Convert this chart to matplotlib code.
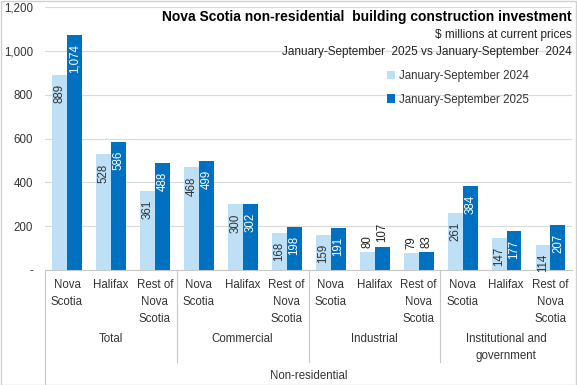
import matplotlib
matplotlib.use("Agg")
import matplotlib.pyplot as plt
import matplotlib.transforms as mtransforms
from matplotlib.lines import Line2D
from matplotlib.patches import Rectangle
import numpy as np

plt.rcParams['font.family'] = ['Liberation Sans Narrow', 'Liberation Sans', 'DejaVu Sans']

# ---- data ----
regions = ["Nova\nScotia", "Halifax", "Rest of\nNova\nScotia"] * 4
groups = ["Total", "Commercial", "Industrial", "Institutional and\ngovernment"]
top_group = "Non-residential"
series_names = ["January-September 2024", "January-September 2025"]
values_2024 = [889, 528, 361, 468, 300, 168, 159, 80, 79, 261, 147, 114]
values_2025 = [1074, 586, 488, 499, 302, 198, 191, 107, 83, 384, 177, 207]
yticks = [0, 200, 400, 600, 800, 1000, 1200]
ytick_labels = ["-", "200", "400", "600", "800", "1,000", "1,200"]

title = "Nova Scotia non-residential  building construction investment"
sub1 = "$ millions at current prices"
sub2 = "January-September  2025 vs January-September  2024"

LIGHT = "#BDE0F7"
DARK = "#0070C0"
W, H = 577, 385

fig = plt.figure(figsize=(W / 100, H / 100), dpi=100)
def fy(py):
    return 1 - py / H
def fx(px):
    return px / W

ax = fig.add_axes([fx(45), fy(270), fx(572) - fx(45), fy(7) - fy(270)])
x = np.arange(len(values_2024))
bw = 0.34
b1 = ax.bar(x - 0.16, values_2024, width=bw, color=LIGHT, label=series_names[0], zorder=2)
b2 = ax.bar(x + 0.18, values_2025, width=bw, color=DARK, label=series_names[1], zorder=2)

ax.set_xlim(-0.5, len(x) - 0.5)
ax.set_ylim(0, 1200)
ax.set_yticks(yticks)
ax.set_yticklabels(ytick_labels, fontsize=8.3, color="#333333")
ax.tick_params(axis="y", length=0, pad=8.5)
ax.set_xticks([])
for s in ["top", "right", "left"]:
    ax.spines[s].set_visible(False)
ax.spines["bottom"].set_color("#c8c8c8")
ax.grid(axis="y", color="#d9d9d9", linewidth=0.8, zorder=0)
ax.set_axisbelow(True)

# value labels
def put_labels(bars, vals, inside_color):
    for b, v in zip(bars, vals):
        cx = b.get_x() + b.get_width() / 2
        if v < 110:
            ax.annotate(f"{v:,}", (cx, v), xytext=(0, 3), textcoords="offset points",
                        rotation=90, ha="center", va="bottom", fontsize=8.3, color="#222222")
        else:
            ax.annotate(f"{v:,}", (cx, v), xytext=(0, -6.5), textcoords="offset points",
                        rotation=90, ha="center", va="top", fontsize=8.3, color=inside_color)
put_labels(b1, values_2024, "#333333")
put_labels(b2, values_2025, "white")

# category axis labels
trans = mtransforms.blended_transform_factory(ax.transData, fig.transFigure)
for i, r in enumerate(regions):
    ax.text(i, fy(279), r, transform=trans, ha="center", va="top", fontsize=8.3,
            color="#333333", linespacing=1.55, clip_on=False)
for g, name in enumerate(groups):
    ax.text(g * 3 + 1, fy(333), name, transform=trans, ha="center", va="top", fontsize=8.3,
            color="#333333", linespacing=1.55, clip_on=False)
ax.text(5.5, fy(370), top_group, transform=trans, ha="center", va="top", fontsize=8.3,
        color="#333333", clip_on=False)

for xs in [2.5, 5.5, 8.5]:
    fig.add_artist(Line2D([xs, xs], [fy(270), fy(362)], transform=trans,
                          color="#c8c8c8", linewidth=0.8))
fig.add_artist(Line2D([-0.5, -0.5], [fy(270), fy(385)], transform=trans,
                      color="#c8c8c8", linewidth=0.8))

# titles
fig.text(fx(572), fy(17), title, ha="right", va="center", fontsize=10,
         fontweight="bold", color="black")
fig.text(fx(572), fy(35), sub1, ha="right", va="center", fontsize=8.5, color="#222222")
fig.text(fx(572), fy(52), sub2, ha="right", va="center", fontsize=8.5, color="#222222")

leg = fig.legend(handles=[b1, b2], loc="upper left", bbox_to_anchor=(fx(387), fy(70)),
                 frameon=False, fontsize=8.3, handlelength=0.7, handleheight=0.7,
                 handletextpad=0.3, labelspacing=1.0, borderaxespad=0, borderpad=0)
for t in leg.get_texts():
    t.set_color("#333333")

fig.add_artist(Rectangle((0.001, 0.001), 0.997, 0.997, transform=fig.transFigure,
                         fill=False, edgecolor="#d0d0d0", linewidth=1))

fig.savefig("out.png", dpi=100)
